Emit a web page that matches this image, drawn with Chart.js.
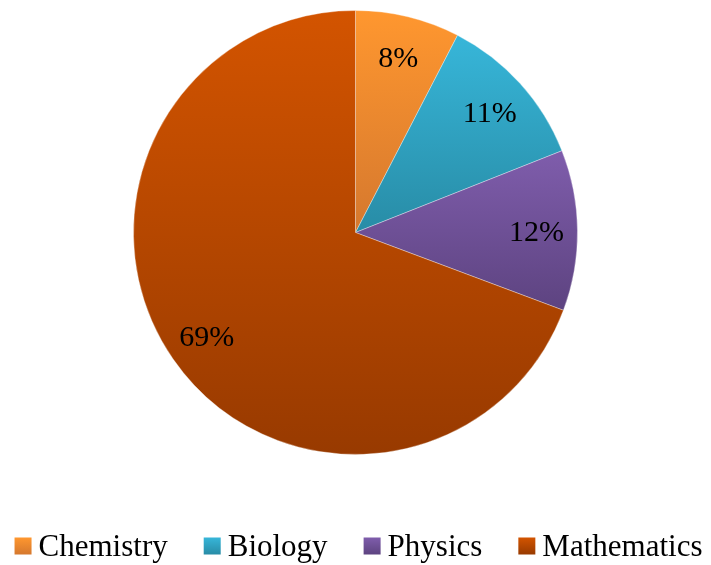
<!DOCTYPE html>
<html>
<head>
<meta charset="utf-8">
<script src="https://cdn.jsdelivr.net/npm/chart.js@4.4.1/dist/chart.umd.min.js"></script>
<style>
  html, body { margin: 0; padding: 0; background: #fff; }
  #wrap { width: 711px; height: 565px; position: relative; }
</style>
</head>
<body>
<div id="wrap"><canvas id="subjectPie"></canvas></div>
<script>
const subjects = ['Chemistry', 'Biology', 'Physics', 'Mathematics'];
const shares = [7.6, 11.4, 11.7, 69.3];
// top / bottom colour of each slice's vertical gradient
const topColors = ['#FF972F', '#37B6D9', '#7F5DAC', '#D35400'];
const bottomColors = ['#D5782E', '#288CA6', '#5D4380', '#983A00'];

const RADIUS = 222;
const total = shares.reduce((a, b) => a + b, 0);

// vertical extent of a slice, worked out from the data and the chart area
function sliceBounds(chart, i) {
  const { left, right, top, bottom } = chart.chartArea;
  const cx = (left + right) / 2, cy = (top + bottom) / 2;
  let before = 0;
  for (let k = 0; k < i; k++) before += shares[k];
  const a0 = before / total * 2 * Math.PI;
  const a1 = (before + shares[i]) / total * 2 * Math.PI;
  const ys = [cy, cy - RADIUS * Math.cos(a0), cy - RADIUS * Math.cos(a1)];
  if (a0 <= 0 || a1 >= 2 * Math.PI) ys.push(cy - RADIUS);
  if (a0 <= Math.PI && a1 >= Math.PI) ys.push(cy + RADIUS);
  return [Math.min(...ys), Math.max(...ys)];
}

function sliceFill(context) {
  const chart = context.chart;
  const i = context.dataIndex;
  if (!chart.chartArea || i === undefined) return topColors[i] || topColors[0];
  const [y0, y1] = sliceBounds(chart, i);
  const g = chart.ctx.createLinearGradient(0, y0, 0, y1);
  g.addColorStop(0, topColors[i]);
  g.addColorStop(1, bottomColors[i]);
  return g;
}

const percentLabels = {
  id: 'percentLabels',
  afterDatasetsDraw(chart) {
    const ctx = chart.ctx;
    const meta = chart.getDatasetMeta(0);
    ctx.save();
    ctx.font = '30px "Liberation Serif", "Times New Roman", serif';
    ctx.fillStyle = '#000';
    ctx.textAlign = 'center';
    ctx.textBaseline = 'alphabetic';
    meta.data.forEach((arc, i) => {
      const { x, y, startAngle, endAngle, outerRadius } = arc.getProps(['x', 'y', 'startAngle', 'endAngle', 'outerRadius']);
      const mid = (startAngle + endAngle) / 2;
      const d = outerRadius * 0.815;
      const px = x + d * Math.cos(mid);
      const py = y + d * Math.sin(mid);
      ctx.fillText(Math.round(shares[i] / total * 100) + '%', px, py + 10.5);
    });
    ctx.restore();
  }
};

const bottomLegend = {
  id: 'bottomLegend',
  afterDraw(chart) {
    const ctx = chart.ctx;
    const box = 17, gap = 7, itemGap = 36;
    ctx.save();
    ctx.font = '31px "Liberation Serif", "Times New Roman", serif';
    ctx.textBaseline = 'alphabetic';
    ctx.textAlign = 'left';
    const widths = subjects.map(s => ctx.measureText(s).width);
    const rowWidth = widths.reduce((a, w) => a + box + gap + w, 0) + itemGap * (subjects.length - 1);
    let x = (chart.width - rowWidth) / 2 + 3;
    const boxTop = 537.5;
    subjects.forEach((s, i) => {
      const g = ctx.createLinearGradient(0, boxTop, 0, boxTop + box);
      g.addColorStop(0, topColors[i]);
      g.addColorStop(1, bottomColors[i]);
      ctx.fillStyle = g;
      ctx.fillRect(x, boxTop, box, box);
      ctx.fillStyle = '#000';
      ctx.fillText(s, x + box + gap, 556);
      x += box + gap + widths[i] + itemGap;
    });
    ctx.restore();
  }
};

new Chart(document.getElementById('subjectPie'), {
  type: 'pie',
  data: {
    labels: subjects,
    datasets: [{
      data: shares,
      backgroundColor: sliceFill,
      borderColor: 'rgba(255,255,255,0.45)',
      borderWidth: 0.75,
      radius: RADIUS
    }]
  },
  options: {
    responsive: true,
    maintainAspectRatio: false,
    animation: false,
    layout: { padding: { top: 0, bottom: 100, left: 0, right: 0 } },
    plugins: {
      legend: { display: false },
      tooltip: { enabled: false }
    }
  },
  plugins: [percentLabels, bottomLegend]
});
</script>
</body>
</html>
